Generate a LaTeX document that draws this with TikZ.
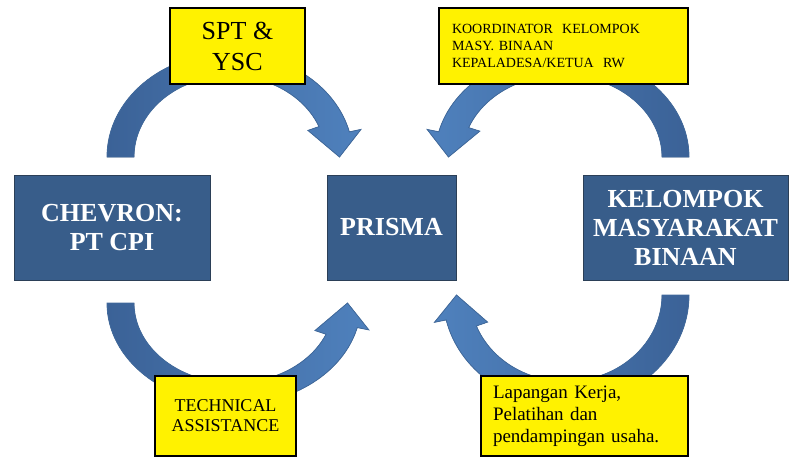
\documentclass[tikz,border=0pt]{standalone}
\usepackage{fontspec}
\setmainfont{Liberation Serif}
\usetikzlibrary{arrows,positioning,calc,shapes}
\tikzset{>=latex}

\definecolor{boxblue}{HTML}{385D8A}
\definecolor{boxedge}{HTML}{2B3F57}
\definecolor{arrowdark}{HTML}{3B6297}
\definecolor{arrowlight}{HTML}{4F81BD}
\definecolor{arrowedge}{HTML}{416A9D}

\tikzset{
  bluebox/.style={draw=boxedge, line width=1pt, fill=boxblue, text=white,
    align=center, font=\bfseries\fontsize{26}{29}\selectfont},
  notebox/.style={draw=black, line width=1.2pt, fill=yellow, text=black},
  ringedge/.style={draw=arrowedge, line width=.8pt}
}

% #1 shading, #2 tail angle, #3 outer head angle, #4 inner head angle, #5 tip angle, #6 inner r, #7 outer r
\newcommand{\ringarrow}[7]{%
  \fill[ringedge, #1] ({#2}:{#7}) arc[start angle=#2, end angle=#3, radius=#7]
    -- ({#3}:{#7+12}) -- ({#5}:{(#6+#7)/2}) -- ({#4}:{#6-12}) -- ({#4}:{#6})
    arc[start angle=#4, end angle=#2, radius=#6] -- cycle;}

\begin{document}
\begin{tikzpicture}[x=1pt,y=-1pt]
    \useasboundingbox (0,0) rectangle (789,456);

    % centres of the curved arrows
    \coordinate (tl) at (230,157);
    \coordinate (tr) at (562,157);
    \coordinate (bl) at (234,303);
    \coordinate (br) at (566,295);

    \begin{scope}[shift={(tl)}, yscale=.845]
    \ringarrow{left color=arrowdark, right color=arrowlight}{180}{346}{338}{360}{96}{123}
    \end{scope}
    \begin{scope}[shift={(tr)}, yscale=.82]
    \ringarrow{right color=arrowdark, left color=arrowlight}{360}{194}{201}{180}{100}{127}
    \end{scope}
    \begin{scope}[shift={(bl)}, yscale=.8]
    \ringarrow{left color=arrowdark, right color=arrowlight}{180}{14}{23}{0}{100}{127}
    \end{scope}
    \begin{scope}[shift={(br)}, yscale=.9]
    \ringarrow{right color=arrowdark, left color=arrowlight}{0}{167}{159}{180}{96}{123}
    \end{scope}

    \node [bluebox, minimum width=196pt, minimum height=105pt] (chevron) at (112,227.5) {CHEVRON:\\PT CPI};
    \node [bluebox, minimum width=129pt, minimum height=105pt] (prisma) at (391.5,227.5) {PRISMA};
    \node [bluebox, minimum width=205pt, minimum height=105pt] (kelompok) at (685.5,227.5) {KELOMPOK\\MASYARAKAT\\BINAAN};

    \node [notebox, align=center, minimum width=135pt, minimum height=76pt,
      font=\fontsize{26}{31}\selectfont] (spt) at (237.5,46) {SPT \&\\YSC};
    \node [notebox, align=left, text width=223pt, inner xsep=13pt, minimum height=76pt,
      font=\fontsize{14}{17}\selectfont] (koord) at (563.5,46)
      {KOORDINATOR\ \ KELOMPOK\\MASY. BINAAN\\KEPALADESA/KETUA\ \ RW};
    \node [notebox, align=center, minimum width=141pt, minimum height=80pt,
      font=\fontsize{18}{20}\selectfont] (tech) at (225.5,416) {TECHNICAL\\ASSISTANCE};
    \node [notebox, align=left, text width=183pt, inner xsep=12pt, minimum height=80pt,
      font=\fontsize{19}{22}\selectfont] (usaha) at (584.5,416)
      {Lapangan Kerja,\\Pelatihan dan\\pendampingan usaha.};

\end{tikzpicture}
\end{document}
